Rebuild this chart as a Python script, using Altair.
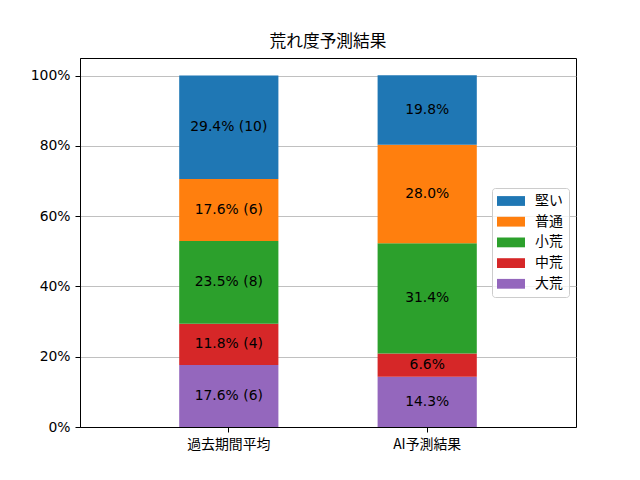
import altair as alt
import pandas as pd

groups = ["過去期間平均", "AI予測結果"]
categories = ["大荒", "中荒", "小荒", "普通", "堅い"]  # bottom to top
colors = ["#9467bd", "#d62728", "#2ca02c", "#ff7f0e", "#1f77b4"]
past_counts = [6, 4, 8, 6, 10]
ai_percents = [14.3, 6.6, 31.4, 28.0, 19.8]
y_ticks = [0, 0.2, 0.4, 0.6, 0.8, 1.0]

rows = []
total = sum(past_counts)
for i, (c, n) in enumerate(zip(categories, past_counts)):
    p = n / total
    rows.append(dict(group=groups[0], cat=c, order=i, share=p,
                     label=f"{p*100:.1f}% ({n})"))
for i, (c, v) in enumerate(zip(categories, ai_percents)):
    rows.append(dict(group=groups[1], cat=c, order=i, share=v / 100,
                     label=f"{v:.1f}%"))
df = pd.DataFrame(rows)

legend_order = categories[::-1]
legend_colors = colors[::-1]

JP = "Noto Sans CJK JP"
LAT = "DejaVu Sans"
FS = 13.9

base = alt.Chart(df).transform_stack(
    stack="share", as_=["y0", "y1"], groupby=["group"],
    sort=[alt.SortField("order", order="ascending")]
).transform_calculate(mid="(datum.y0 + datum.y1) / 2")

x_enc = alt.X("group:N", sort=groups,
              scale=alt.Scale(paddingInner=0.5, paddingOuter=0.5),
              axis=alt.Axis(title=None, labelAngle=0, labelFont=JP,
                            labelFontSize=FS, labelColor="black",
                            tickColor="black", tickSize=5, labelPadding=5,
                            domainColor="black", grid=False))

bars = base.mark_bar().encode(
    x=x_enc,
    y=alt.Y("y0:Q", scale=alt.Scale(domain=[0, 1.05], nice=False, zero=True),
            axis=alt.Axis(title=None, values=y_ticks, format=".0%",
                          labelFont=LAT, labelFontSize=FS, labelColor="black",
                          tickColor="black", tickSize=5, labelPadding=5,
                          domainColor="black", gridColor="#b0b0b0",
                          gridWidth=0.8)),
    y2="y1:Q",
    color=alt.Color("cat:N",
                    scale=alt.Scale(domain=legend_order, range=legend_colors),
                    legend=alt.Legend(
                        title=None, orient="none", legendX=412, legendY=130,
                        symbolType="M-1.143,-0.7H2.857V0.7H-1.143Z",
                        symbolSize=196,
                        symbolStrokeWidth=0, symbolOpacity=1,
                        labelFont=JP, labelFontSize=FS, labelColor="black",
                        labelOffset=23, rowPadding=6.7, padding=6,
                        fillColor="rgba(255,255,255,0.8)",
                        strokeColor="#cccccc", cornerRadius=3)),
)

labels = base.mark_text(font=LAT, fontSize=FS, color="black").encode(
    x=alt.X("group:N", sort=groups),
    y="mid:Q",
    text="label:N",
)

chart = alt.layer(bars, labels).properties(
    width=496, height=369,
    autosize=alt.AutoSizeParams(type="none"),
    padding={"left": 72, "top": 50, "right": 56, "bottom": 45},
    title=alt.TitleParams("荒れ度予測結果", font=JP, fontSize=16.7,
                          fontWeight="normal", color="black", offset=7),
).configure_view(stroke="black", strokeWidth=1)

chart.save("out.html", embed_options={"renderer": "svg", "actions": False})
